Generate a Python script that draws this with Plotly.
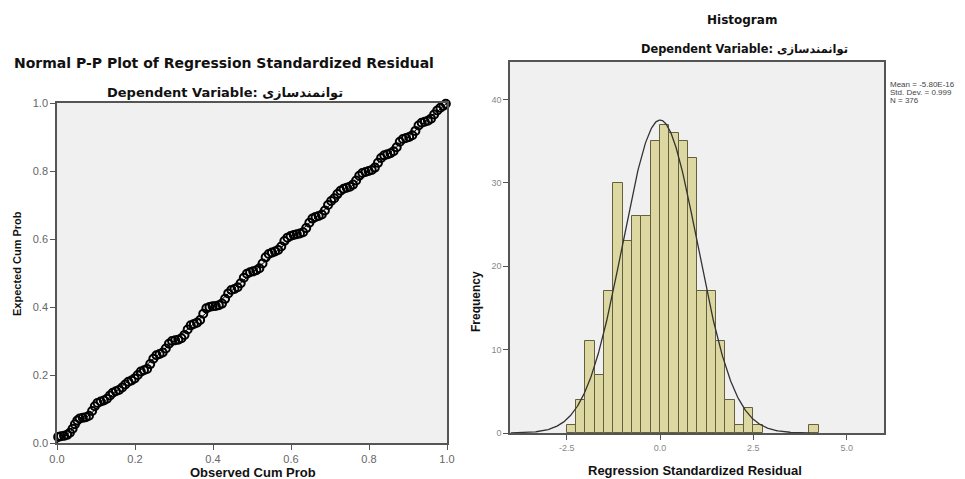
import math
import plotly.graph_objects as go

# ---------------- data ----------------
pp_observed = [0.003, 0.010, 0.018, 0.026, 0.033, 0.040, 0.046, 0.052, 0.058, 0.066,
               0.074, 0.082, 0.090, 0.097, 0.104, 0.112, 0.120, 0.128, 0.136, 0.143,
               0.151, 0.159, 0.167, 0.175, 0.183, 0.191, 0.199, 0.207, 0.215, 0.223,
               0.231, 0.239, 0.247, 0.255, 0.263, 0.271, 0.279, 0.287, 0.295, 0.303,
               0.311, 0.319, 0.327, 0.335, 0.343, 0.351, 0.359, 0.367, 0.375, 0.383,
               0.391, 0.399, 0.407, 0.415, 0.423, 0.431, 0.439, 0.447, 0.455, 0.463,
               0.471, 0.479, 0.487, 0.495, 0.503, 0.511, 0.519, 0.527, 0.535, 0.543,
               0.551, 0.559, 0.567, 0.575, 0.583, 0.591, 0.599, 0.607, 0.615, 0.623,
               0.631, 0.639, 0.647, 0.655, 0.663, 0.671, 0.679, 0.687, 0.695, 0.703,
               0.711, 0.719, 0.727, 0.735, 0.743, 0.751, 0.759, 0.767, 0.775, 0.783,
               0.791, 0.799, 0.807, 0.815, 0.823, 0.831, 0.839, 0.847, 0.855, 0.863,
               0.871, 0.879, 0.887, 0.895, 0.903, 0.911, 0.919, 0.927, 0.935, 0.943,
               0.951, 0.959, 0.967, 0.975, 0.983, 0.991, 0.997]
pp_expected = [0.018, 0.020, 0.021, 0.024, 0.030, 0.042, 0.055, 0.066, 0.072, 0.074,
               0.076, 0.080, 0.094, 0.108, 0.118, 0.122, 0.125, 0.130, 0.140, 0.148,
               0.152, 0.156, 0.163, 0.172, 0.180, 0.184, 0.190, 0.200, 0.210, 0.214,
               0.218, 0.232, 0.248, 0.258, 0.262, 0.266, 0.278, 0.292, 0.300, 0.302,
               0.304, 0.308, 0.318, 0.334, 0.346, 0.350, 0.354, 0.362, 0.380, 0.396,
               0.400, 0.402, 0.403, 0.405, 0.410, 0.424, 0.440, 0.450, 0.453, 0.458,
               0.470, 0.486, 0.498, 0.502, 0.505, 0.508, 0.514, 0.528, 0.546, 0.556,
               0.560, 0.563, 0.568, 0.578, 0.594, 0.604, 0.609, 0.612, 0.614, 0.616,
               0.620, 0.632, 0.648, 0.660, 0.665, 0.668, 0.672, 0.684, 0.700, 0.712,
               0.720, 0.732, 0.742, 0.748, 0.751, 0.754, 0.760, 0.772, 0.786, 0.794,
               0.797, 0.800, 0.803, 0.810, 0.824, 0.838, 0.846, 0.849, 0.852, 0.858,
               0.870, 0.886, 0.894, 0.897, 0.900, 0.905, 0.918, 0.934, 0.942, 0.945,
               0.948, 0.954, 0.966, 0.978, 0.986, 0.992, 0.998]

bin_left_edges = [-2.5, -2.25, -2.0, -1.75, -1.5, -1.25, -1.0, -0.75, -0.5, -0.25,
                  0.0, 0.25, 0.5, 0.75, 1.0, 1.25, 1.5, 1.75, 2.0, 2.25, 2.5, 4.0]
bin_counts = [1, 4, 11, 7, 17, 30, 23, 26, 26, 35,
              37, 36, 35, 33, 17, 17, 11, 4, 1, 3, 1, 1]
bin_width = 0.25

stat_mean = -5.80e-16
stat_sd = 0.999
stat_n = 376
stat_lines = ["Mean = -5.80E-16", "Std. Dev. = 0.999", "N = 376"]

pp_ticks = [0.0, 0.2, 0.4, 0.6, 0.8, 1.0]
hist_xticks = [-2.5, 0.0, 2.5, 5.0]
hist_xlabels = ["-2.5", "0.0", "2.5", "5.0"]
hist_yticks = [0, 10, 20, 30, 40]

# ---------------- figure ----------------
W, H = 965, 479
OFF = 8  # page body margin in the browser
FONT = "Liberation Sans, Arial, DejaVu Sans, sans-serif"
TFONT = "DejaVu Sans, Liberation Sans, sans-serif"


def xd(px):
    return (px - OFF) / W


def yd(py):
    return 1 - (py - OFF) / H


fig = go.Figure()

# P-P plot
fig.add_trace(go.Scatter(x=[0, 1], y=[0, 1], mode="lines",
                         line=dict(color="black", width=1),
                         xaxis="x", yaxis="y", showlegend=False, hoverinfo="skip"))
fig.add_trace(go.Scatter(x=pp_observed, y=pp_expected, mode="markers",
                         marker=dict(symbol="circle-open", size=8, color="black",
                                     line=dict(width=2, color="black")),
                         xaxis="x", yaxis="y", showlegend=False, cliponaxis=False))

# Histogram
centers = [e + bin_width / 2 for e in bin_left_edges]
fig.add_trace(go.Bar(x=centers, y=bin_counts, width=bin_width,
                     marker=dict(color="#ddd7a2", line=dict(color="#65603c", width=1)),
                     xaxis="x2", yaxis="y2", showlegend=False))

# normal curve implied by the displayed statistics
curve_x = [-4.0 + i * 0.02 for i in range(401)]
curve_y = [stat_n * bin_width / (stat_sd * math.sqrt(2 * math.pi)) *
           math.exp(-0.5 * ((v - stat_mean) / stat_sd) ** 2) for v in curve_x]
fig.add_trace(go.Scatter(x=curve_x, y=curve_y, mode="lines",
                         line=dict(color="#333333", width=1.3),
                         xaxis="x2", yaxis="y2", showlegend=False))

axis_common = dict(showline=True, linecolor="#555555", linewidth=1.5, mirror=True,
                   ticks="outside", ticklen=5, tickcolor="#555555", tickwidth=1.2,
                   showgrid=False, zeroline=False, automargin=False)

fig.update_layout(
    width=W, height=H,
    margin=dict(l=0, r=0, t=0, b=0, pad=0),
    paper_bgcolor="white",
    plot_bgcolor="#f0f0f0",
    font=dict(family=FONT, color="#555555"),
    bargap=0,
    xaxis=dict(domain=[xd(57), xd(447)], range=[0, 1], tickvals=pp_ticks,
               ticktext=["%.1f" % t for t in pp_ticks], anchor="y",
               tickfont=dict(size=11, color="#666666"), **axis_common),
    yaxis=dict(domain=[yd(443), yd(103)], range=[0, 1], tickvals=pp_ticks,
               ticktext=["%.1f" % t for t in pp_ticks], anchor="x",
               tickfont=dict(size=11, color="#666666"), **axis_common),
    xaxis2=dict(domain=[xd(510), xd(884)], range=[-4.02, 6.0], tickvals=hist_xticks,
                ticktext=hist_xlabels, anchor="y2",
                tickfont=dict(size=9, color="#888888"), **axis_common),
    yaxis2=dict(domain=[yd(433), yd(62)], range=[0, 44.5], tickvals=hist_yticks,
                anchor="x2", tickfont=dict(size=9, color="#888888"), **axis_common),
)

ann = []


def add(text, x, y, size, angle=0, fam=TFONT):
    ann.append(dict(text=text, x=xd(x), y=yd(y), xref="paper", yref="paper",
                    showarrow=False, xanchor="center", yanchor="middle",
                    textangle=angle, font=dict(size=size, family=fam, color="#111111")))


add("<b>Normal P-P Plot of Regression Standardized Residual</b>", 224, 63, 14)
add("<b>Dependent Variable: توانمندسازی</b>", 225, 92, 13)
add("<b>Expected Cum Prob</b>", 17, 264, 11, angle=-90, fam=FONT)
add("<b>Observed Cum Prob</b>", 253, 472.5, 13, fam=FONT)
add("<b>Histogram</b>", 742, 20, 12)
add("<b>Dependent Variable: توانمندسازی</b>", 744, 49, 11.4)
add("<b>Frequency</b>", 476, 302, 12, angle=-90, fam=FONT)
add("<b>Regression Standardized Residual</b>", 695, 470, 13, fam=FONT)

for i, line in enumerate(stat_lines):
    ann.append(dict(text=line, x=xd(888), y=yd(84 + 8 * i), xref="paper", yref="paper",
                    showarrow=False, xanchor="left", yanchor="middle", align="left",
                    font=dict(size=8, family=FONT, color="#444444")))

fig.update_layout(annotations=ann)

fig.write_html("out.html")
